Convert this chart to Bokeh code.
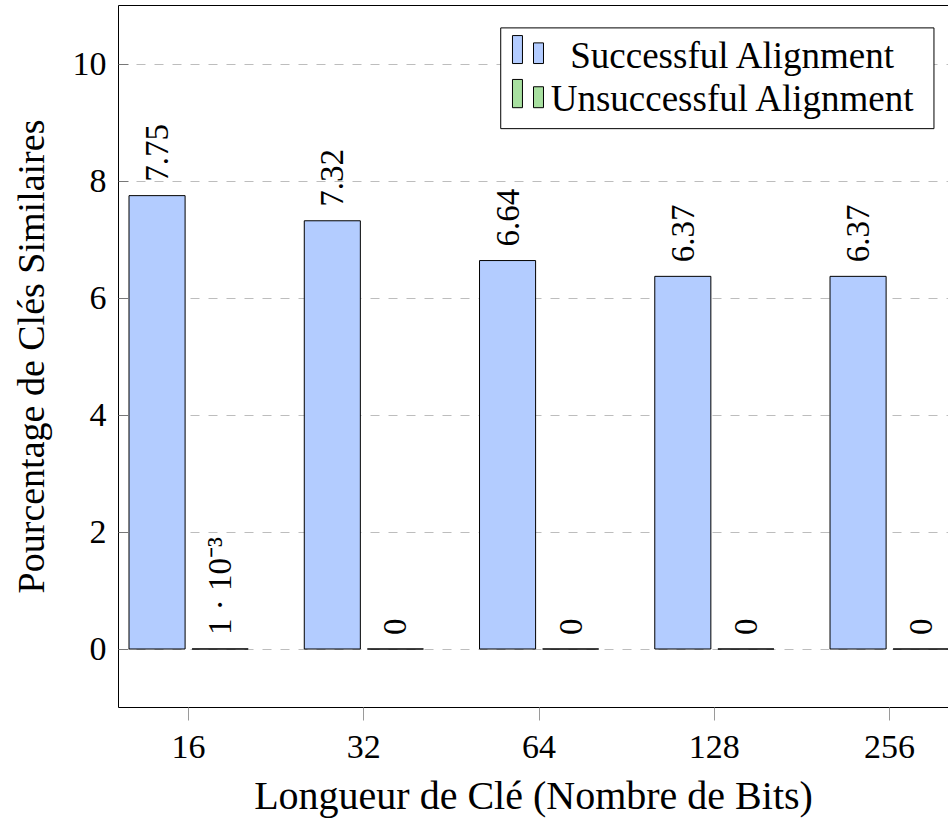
import math
from bokeh.plotting import figure
from bokeh.models import (Range1d, FixedTicker, LinearAxis, ColumnDataSource,
                          BoxAnnotation, Label)
from bokeh.transform import dodge
from bokeh.embed import file_html
from bokeh.resources import INLINE

# ---- data ----
key_lengths = ["16", "32", "64", "128", "256"]
successful = [7.75, 7.32, 6.64, 6.37, 6.37]
unsuccessful = [0.001, 0, 0, 0, 0]
y_ticks = [0, 2, 4, 6, 8, 10]
series_names = ["Successful Alignment", "Unsuccessful Alignment"]

BLUE = "#b3ccff"
GREEN = "#a8e0a0"
FONT = "Liberation Serif"


def fmt(v):
    if v == 0:
        return "0"
    if abs(v) < 0.01:
        exp = int(math.floor(math.log10(abs(v))))
        mant = v / 10 ** exp
        sup = str.maketrans("-0123456789", "⁻⁰¹²³⁴⁵⁶⁷⁸⁹")
        return f"{mant:g} · 10{str(exp).translate(sup)}"
    return f"{v:.2f}"


idx = list(range(len(key_lengths)))
src = ColumnDataSource(dict(idx=idx, succ=successful, unsucc=unsuccessful))

p = figure(width=948, height=820,
           x_range=Range1d(-0.4, 4.336), y_range=Range1d(-1, 11),
           output_backend="svg", toolbar_location=None,
           min_border_left=118, min_border_right=0,
           min_border_top=5, min_border_bottom=110)
p.outline_line_color = None
p.background_fill_color = "white"

xa = p.below[0]
ya = p.left[0]

# top border line
top_axis = LinearAxis(ticker=FixedTicker(ticks=[]), major_tick_out=0,
                      major_tick_in=0, minor_tick_out=0, minor_tick_in=0,
                      major_label_text_font_size="0px",
                      axis_line_color="black", axis_line_width=1)
p.add_layout(top_axis, "above")

# bars
off, w = 0.18, 0.32
p.vbar(x=dodge("idx", -off, range=p.x_range), top="succ", bottom=0, width=w,
       source=src, fill_color=BLUE, line_color="black", line_width=1)
p.vbar(x=dodge("idx", off, range=p.x_range), top="unsucc", bottom=0, width=w,
       source=src, fill_color=GREEN, line_color="black", line_width=1)

# value labels (one Label per bar, placed at the bar's value)
for vals, o in ((successful, -off), (unsuccessful, off)):
    for i, v in zip(idx, vals):
        p.add_layout(Label(x=i + o, y=v, text=fmt(v), angle=math.pi / 2,
                           text_align="left", text_baseline="middle",
                           y_offset=14, text_font=FONT,
                           text_font_size="33px", text_color="black"))

# axes
xa.ticker = FixedTicker(ticks=idx)
xa.major_label_overrides = {i: k for i, k in zip(idx, key_lengths)}
xa.major_tick_out = 13
xa.major_tick_in = 0
xa.minor_tick_out = 0
xa.minor_tick_in = 0
xa.major_tick_line_color = "#9a9a9a"
xa.axis_line_color = "black"
xa.major_label_standoff = 15
xa.major_label_text_font = FONT
xa.major_label_text_font_size = "34px"
xa.major_label_text_color = "black"
xa.axis_label = "Longueur de Clé (Nombre de Bits)"
xa.axis_label_text_font = FONT
xa.axis_label_text_font_size = "40px"
xa.axis_label_text_font_style = "normal"
xa.axis_label_text_color = "black"
xa.axis_label_standoff = 12

ya.ticker = FixedTicker(ticks=y_ticks)
ya.major_tick_in = 10
ya.major_tick_out = 0
ya.minor_tick_out = 0
ya.minor_tick_in = 0
ya.major_tick_line_color = "#777777"
ya.axis_line_color = "black"
ya.major_label_standoff = 12
ya.major_label_text_font = FONT
ya.major_label_text_font_size = "34px"
ya.major_label_text_color = "black"
ya.axis_label = "Pourcentage de Clés Similaires"
ya.axis_label_text_font = FONT
ya.axis_label_text_font_size = "38px"
ya.axis_label_text_font_style = "normal"
ya.axis_label_text_color = "black"
ya.axis_label_standoff = 18

p.xgrid.grid_line_color = None
p.ygrid.ticker = FixedTicker(ticks=y_ticks)
p.ygrid.grid_line_color = "#bdbdbd"
p.ygrid.grid_line_dash = "9 9"
p.ygrid.grid_line_width = 1

# legend (drawn manually to mimic the two-bar icons and centred text)
p.add_layout(BoxAnnotation(left=1.781, right=4.253, top=10.617, bottom=8.895,
                           fill_color="white", fill_alpha=1,
                           line_color="black", line_alpha=1, line_width=1))
rows = [(BLUE, 10.486, 10.361, 10.008, 10.15),
        (GREEN, 9.736, 9.611, 9.253, 9.41)]
for (color, t1, t2, b, base), name in zip(rows, series_names):
    for (l, r, t) in ((1.848, 1.905, t1), (1.968, 2.025, t2)):
        p.add_layout(BoxAnnotation(left=l, right=r, top=t, bottom=b,
                                   fill_color=color, fill_alpha=1,
                                   line_color="black", line_alpha=1,
                                   line_width=1))
    p.add_layout(Label(x=3.107, y=base, text=name, text_align="center",
                       text_baseline="alphabetic", text_font=FONT,
                       text_font_size="37px", text_color="black"))

open("out.html", "w").write(file_html(p, INLINE))
